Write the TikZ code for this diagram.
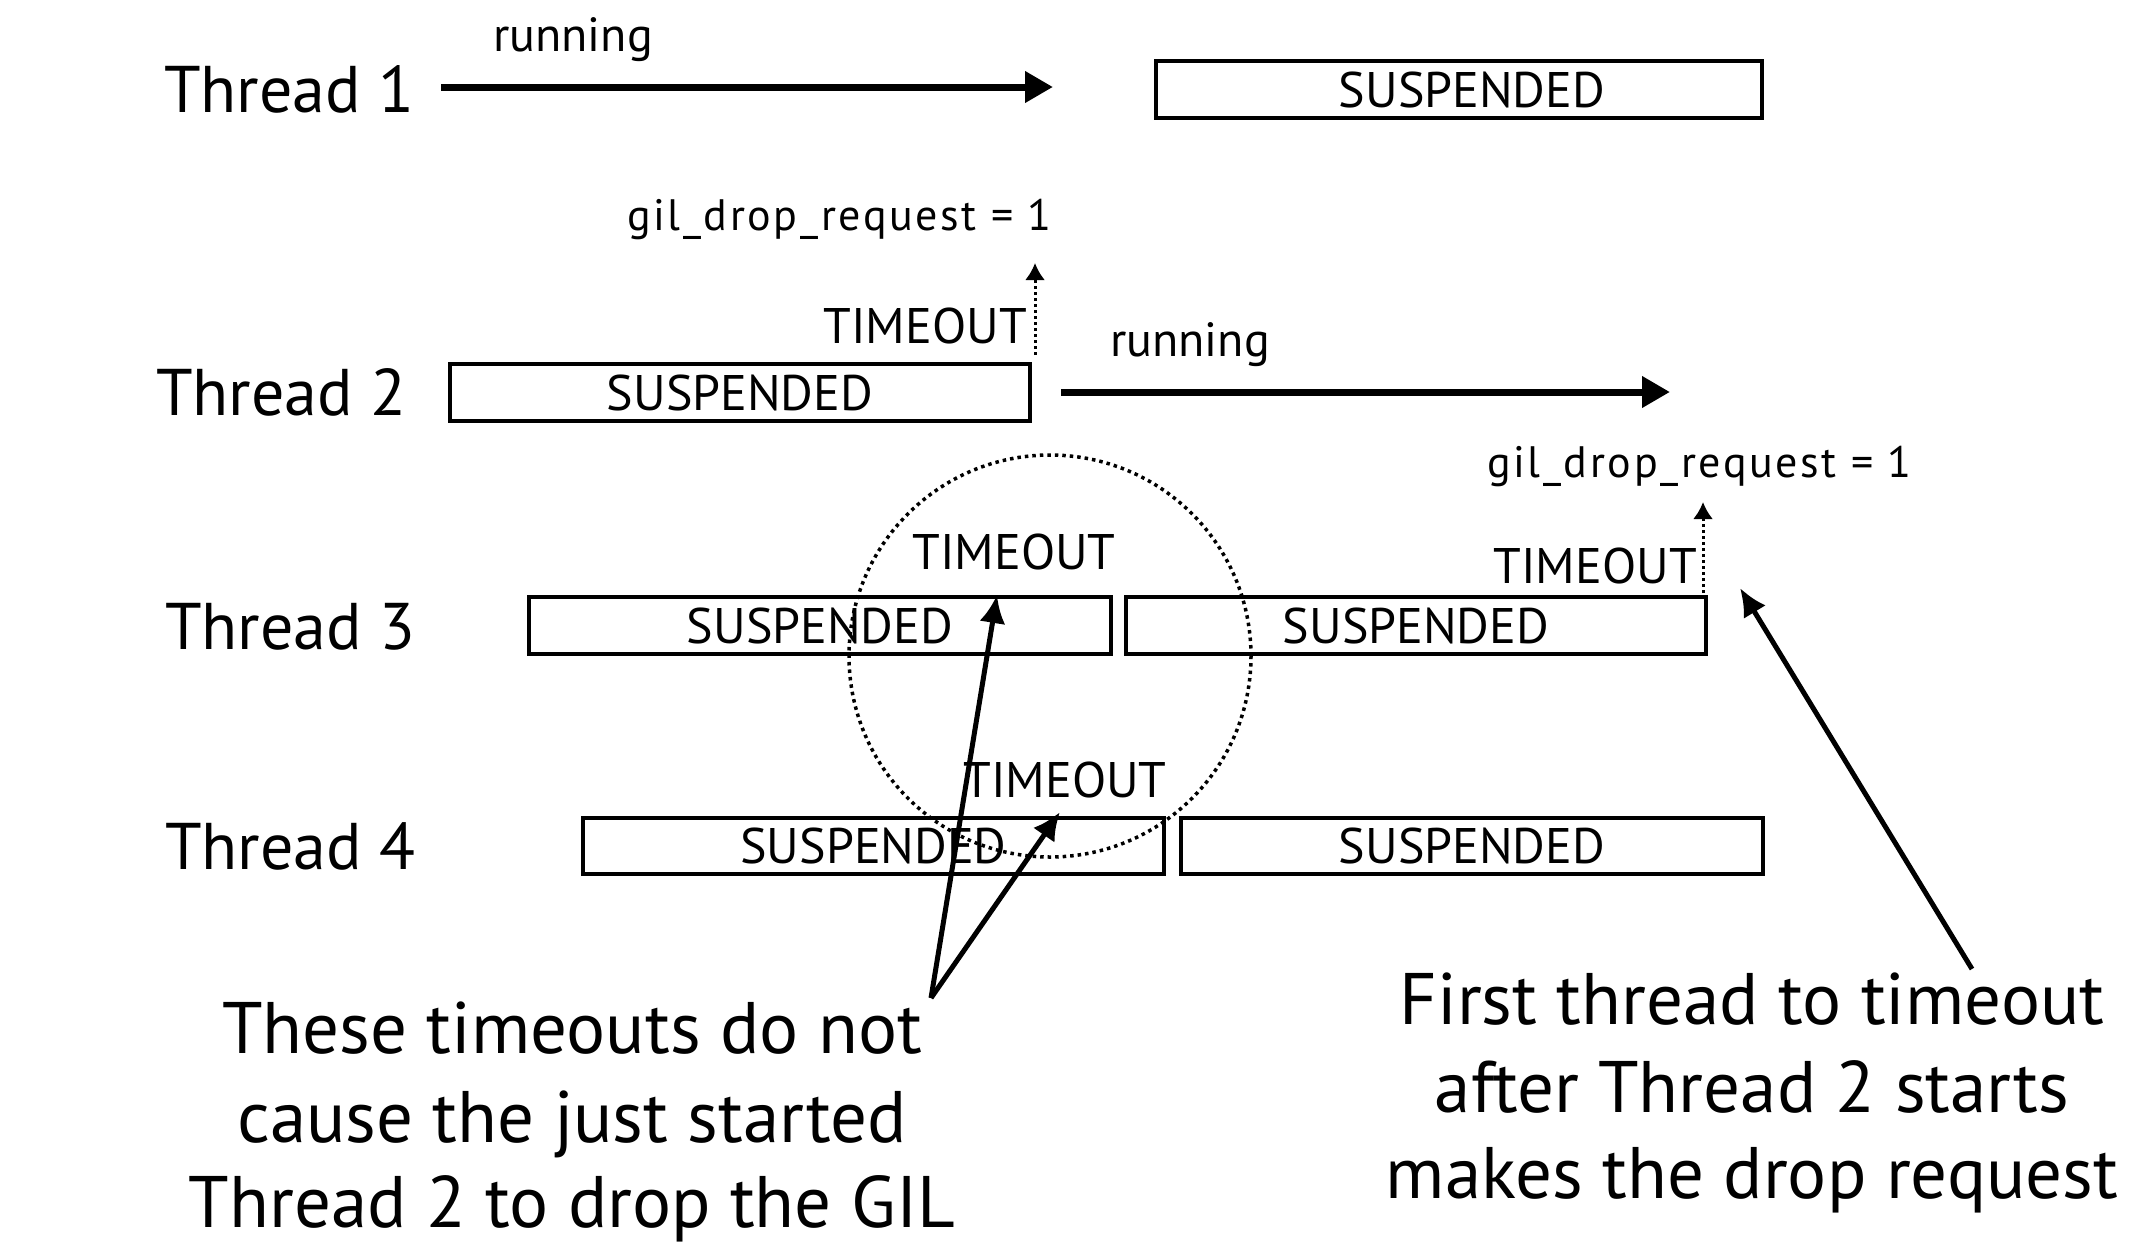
\documentclass[tikz,border=0pt]{standalone}
\usepackage{fontspec}
\setmainfont{PT Sans}
\newfontfamily\gilfont[LetterSpace=6]{PT Sans}
\usetikzlibrary{arrows.meta}
\begin{document}
\begin{tikzpicture}[x=1pt,y=-1pt,
  lbl/.style={inner sep=0pt, anchor=base west, font=\fontsize{66}{70}\selectfont},
  box/.style={draw, line width=4pt, inner sep=0pt, font=\fontsize{50}{55}\selectfont},
  small/.style={inner sep=0pt, font=\fontsize{50}{55}\selectfont},
  runtxt/.style={inner sep=0pt, anchor=base west, font=\fontsize{48}{55}\selectfont},
  gil/.style={inner sep=0pt, anchor=base east, font=\gilfont\fontsize{44}{50}\selectfont},
  note/.style={inner sep=0pt, anchor=base, font=\fontsize{73}{80}\selectfont},
  run/.style={line width=7pt, -{Triangle[length=28pt,width=30pt]}},
  dotarrow/.style={line width=3pt, dash pattern=on 3pt off 3pt, -{Latex[length=17pt,width=20pt]}},
  ringstyle/.style={draw, circle, line width=3.5pt, dash pattern=on 3.5pt off 4pt, inner sep=0pt},
  point/.style={line width=5pt, -{Latex[length=28pt,width=26pt]}},
]
\fill[white] (0,0) rectangle (2144,1254);
\useasboundingbox (0,0) rectangle (2144,1254);

% thread labels
\node[lbl] (th1) at (164,112) {Thread 1};
\node[lbl] (th2) at (156,415) {Thread 2};
\node[lbl] (th3) at (165,649) {Thread 3};
\node[lbl] (th4) at (165,869) {Thread 4};

% boxes
\node[box, minimum width=606pt, minimum height=57pt] (b1) at (1459,89.5) {\hspace*{26pt}SUSPENDED};
\node[box, minimum width=580pt, minimum height=57pt] (b2) at (740,392.5) {SUSPENDED};
\node[box, minimum width=582pt, minimum height=57pt] (b3a) at (820,625.5) {SUSPENDED};
\node[box, minimum width=580pt, minimum height=57pt] (b3b) at (1416,625.5) {SUSPENDED};
\node[box, minimum width=581pt, minimum height=56pt] (b4a) at (873.5,846) {SUSPENDED};
\node[box, minimum width=582pt, minimum height=56pt] (b4b) at (1472,846) {SUSPENDED};

% running arrows
\node[runtxt] (run1) at (493,51) {running};
\node[runtxt] (run2) at (1110,356) {running};
\coordinate (r1s) at (441,87);
\coordinate (r1e) at (1053,87);
\coordinate (r2s) at (1061,392);
\coordinate (r2e) at (1670,392);
\draw[run] (r1s) -- (r1e);
\draw[run] (r2s) -- (r2e);

% timeouts
\node[small, anchor=base east] (to2) at (1027,343) {TIMEOUT};
\node[small, anchor=base] (to3a) at (1014,569) {TIMEOUT};
\node[small, anchor=base east] (to3b) at (1697,583) {TIMEOUT};
\node[small, anchor=base] (to4) at (1065,797) {TIMEOUT};

% drop requests
\node[gil] (gil1) at (1052,230) {gil\_drop\_request = 1};
\node[gil] (gil2) at (1912,477) {gil\_drop\_request = 1};
\coordinate (d1s) at (1035,355);
\coordinate (d1e) at (1035,263);
\coordinate (d2s) at (1703,593);
\coordinate (d2e) at (1703,502);
\draw[dotarrow] (d1s) -- (d1e);
\draw[dotarrow] (d2s) -- (d2e);

% ring
\node[ringstyle, minimum size=402pt] (ring) at (1050,656) {};

% notes
\node[note] (nl1) at (572,1053) {These timeouts do not};
\node[note] (nl2) at (572,1142) {cause the just started};
\node[note] (nl3) at (572,1227) {Thread 2 to drop the GIL};
\node[note] (nr1) at (1752,1024) {First thread to timeout};
\node[note] (nr2) at (1752,1112) {after Thread 2 starts};
\node[note] (nr3) at (1752,1198) {makes the drop request};

% pointers
\coordinate (pL) at (931,998);
\coordinate (tA) at (997,595);
\coordinate (tB) at (1060,812);
\coordinate (pR) at (1972,969);
\coordinate (tC) at (1740,588);
\draw[point] (pL) -- (tA);
\draw[point] (pL) -- (tB);
\draw[point] (pR) -- (tC);
\end{tikzpicture}
\end{document}
